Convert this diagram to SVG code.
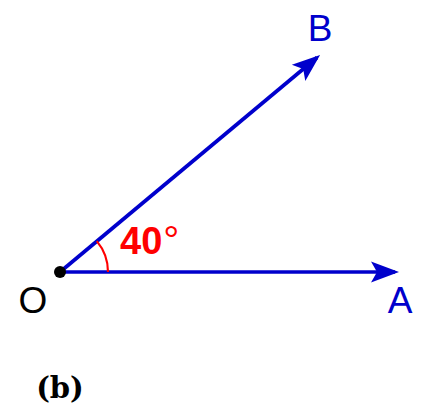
<svg xmlns="http://www.w3.org/2000/svg" width="424" height="419" viewBox="0 0 424 419">
<style>
.ray{stroke:#0000CC;stroke-width:3.7;fill:none}
.lbl{font-family:"Liberation Sans","DejaVu Sans",sans-serif;font-size:37px}
</style>
<defs>
<marker id="ah" markerUnits="userSpaceOnUse" markerWidth="40" markerHeight="40" viewBox="-30 -15 40 30" refX="-4" refY="0" orient="auto">
<path d="M0,0 L-28,-10.5 L-22,0 L-28,10.5 Z" fill="#0000CC"/>
</marker>
</defs>
<rect width="424" height="419" fill="#fff"/>
<g id="connectors">
<line class="ray" x1="60" y1="272" x2="395" y2="272" marker-end="url(#ah)"/>
<line class="ray" x1="60" y1="272" x2="317" y2="57.5" marker-end="url(#ah)"/>
</g>
<g id="angle">
<path d="M108,272 A48,48 0 0 0 96.8,241.1" stroke="#FF0000" stroke-width="2.2" fill="none"/>
<text x="120" y="254" font-family="Liberation Sans,DejaVu Sans,sans-serif" font-size="38" font-weight="bold" fill="#FF0000">40<tspan font-weight="normal" font-size="40" dx="1">°</tspan></text>
</g>
<g id="O">
<circle cx="60" cy="272" r="6" fill="#000"/>
<text class="lbl" x="33" y="313" text-anchor="middle" fill="#000">O</text>
</g>
<g id="A">
<text class="lbl" x="400" y="313" text-anchor="middle" fill="#0000CC">A</text>
</g>
<g id="B">
<text class="lbl" x="320" y="41" text-anchor="middle" fill="#0000CC">B</text>
</g>
<text x="60" y="398" text-anchor="middle" font-family="DejaVu Serif,Liberation Serif,serif" font-size="29" font-weight="bold" fill="#000">(b)</text>
</svg>
